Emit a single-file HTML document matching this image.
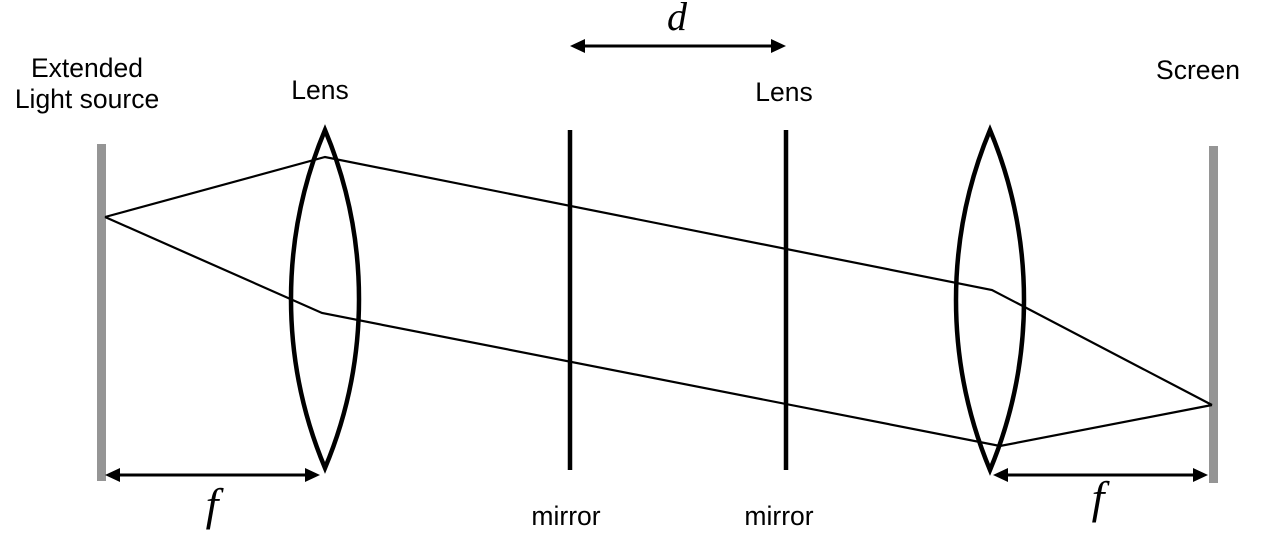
<!DOCTYPE html>
<html>
<head>
<meta charset="utf-8">
<style>
  html,body{margin:0;padding:0;background:#fff;}
  svg{display:block;}
  .lbl{font-family:"Liberation Sans",Arial,sans-serif;font-size:26.5px;fill:#000;}
  .math{font-family:"Liberation Serif","Times New Roman",serif;font-style:italic;fill:#000;}
</style>
</head>
<body>
<svg width="1284" height="550" viewBox="0 0 1284 550" xmlns="http://www.w3.org/2000/svg">
  <rect width="1284" height="550" fill="#fff"/>

  <!-- source and screen bars -->
  <rect x="97" y="144" width="9" height="337" fill="#959595"/>
  <rect x="1209" y="146" width="9" height="337" fill="#959595"/>

  <!-- mirrors -->
  <line x1="570" y1="130" x2="570" y2="470" stroke="#000" stroke-width="4.5"/>
  <line x1="786" y1="130" x2="786" y2="470" stroke="#000" stroke-width="4.5"/>

  <!-- lenses -->
  <path d="M325,130 A437,437 0 0 0 325,468 A437,437 0 0 0 325,130 Z" fill="none" stroke="#000" stroke-width="4.5" stroke-linejoin="miter"/>
  <path d="M990,130 A442,442 0 0 0 990,470 A442,442 0 0 0 990,130 Z" fill="none" stroke="#000" stroke-width="4.5" stroke-linejoin="miter"/>

  <!-- rays -->
  <polyline points="105,217 325,157 992,290 1212,405" fill="none" stroke="#000" stroke-width="2.2" stroke-linejoin="miter"/>
  <polyline points="105,217 322,313 1000,446 1212,405" fill="none" stroke="#000" stroke-width="2.2" stroke-linejoin="miter"/>

  <!-- d arrow -->
  <line x1="582" y1="46" x2="774" y2="46" stroke="#000" stroke-width="3"/>
  <polygon points="570,46 585,39 585,53" fill="#000"/>
  <polygon points="786,46 771,39 771,53" fill="#000"/>

  <!-- left f arrow -->
  <line x1="117" y1="475" x2="308" y2="475" stroke="#000" stroke-width="3"/>
  <polygon points="105,475 120,468 120,482" fill="#000"/>
  <polygon points="320,475 305,468 305,482" fill="#000"/>

  <!-- right f arrow -->
  <line x1="1005" y1="475" x2="1196" y2="475" stroke="#000" stroke-width="3"/>
  <polygon points="993,475 1008,468 1008,482" fill="#000"/>
  <polygon points="1208,475 1193,468 1193,482" fill="#000"/>

  <!-- labels -->
  <text class="lbl" x="87" y="77" text-anchor="middle">Extended</text>
  <text class="lbl" x="87" y="108" text-anchor="middle">Light source</text>
  <text class="lbl" x="320" y="99" text-anchor="middle">Lens</text>
  <text class="lbl" x="784" y="101" text-anchor="middle">Lens</text>
  <text class="lbl" x="1198" y="79" text-anchor="middle">Screen</text>
  <text class="lbl" x="566" y="525" text-anchor="middle">mirror</text>
  <text class="lbl" x="779" y="525" text-anchor="middle">mirror</text>

  <text class="math" x="677" y="30" font-size="40" text-anchor="middle">d</text>
  <text class="math" x="212" y="520" font-size="46" text-anchor="middle">f</text>
  <text class="math" x="1098" y="513" font-size="46" text-anchor="middle">f</text>
</svg>
</body>
</html>
